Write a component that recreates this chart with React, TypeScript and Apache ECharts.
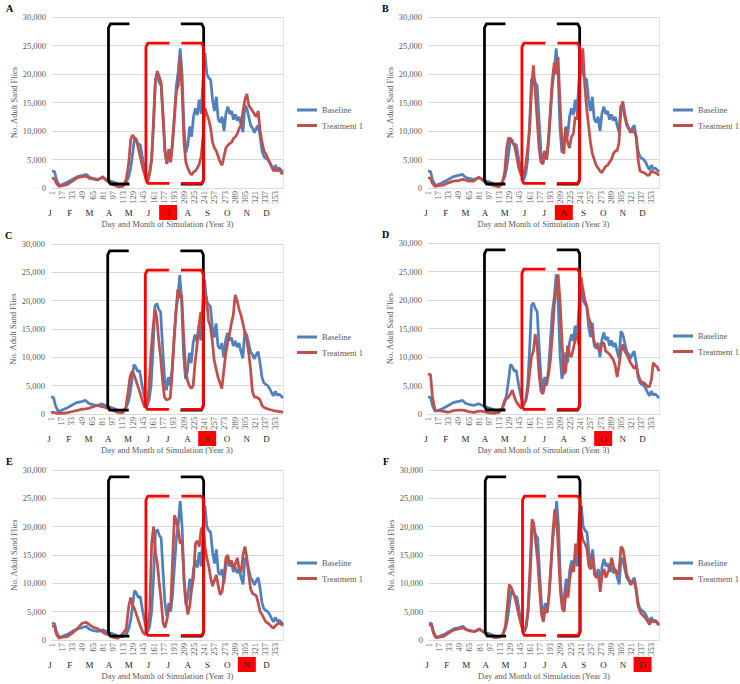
import React, { useEffect, useRef } from "react";
import * as echarts from "echarts";

// ---- Data (days of simulation, Year 3) ----
const days = [
  1, 5, 8, 12, 17, 25, 33, 41, 49, 55, 60, 65, 73, 81, 85, 90, 97, 105, 113,
  118, 122,
  125, 128, 131, 134, 137, 140, 144, 148,
  152, 155, 158, 161, 164, 167, 170, 173, 176, 179, 182, 185,
  188, 191, 194, 197, 200, 203, 206, 209, 212, 215, 218, 221,
  224, 227, 230, 233, 236, 239, 242, 245, 248, 251, 254, 257,
  260, 263, 266, 269, 272, 275, 278, 281, 284, 287, 290, 293,
  296, 299, 302, 305, 308, 311, 314, 317, 320, 323, 326, 329,
  332, 335, 338, 341, 344, 347, 350, 353, 356, 359, 362, 365,
];

const baseline = [
  3000, 2900, 1500, 500, 600, 1000, 1500, 2000, 2200, 2400, 1900, 1700, 1500, 1800, 1600, 1300, 1100, 700, 600,
  1000, 2000,
  3500, 6000, 8700, 8300, 7500, 7700, 5000, 2800,
  1500, 2500, 5000, 11000, 19000, 19500, 18500, 18000, 12000, 6500, 4200, 6500,
  5000, 8000, 13000, 18000, 20500, 24500, 20000, 10500, 6200, 7500, 10800, 9000,
  12500, 14000, 12800, 15500, 13000, 19000, 23700, 20000, 19300, 19000, 15500, 13500,
  16000, 12000, 11500, 12500, 10000, 13000, 14300, 13000, 13500, 12000, 12900, 11800,
  12500, 11000, 9800, 14500, 14000, 12500, 11000, 10500, 9700, 10500, 11000, 9000,
  6500, 5500, 5200, 5000, 4500, 3800, 3200, 4000, 3300, 3500, 3200, 2800,
];

const treatmentA = [
  1800, 1600, 800, 300, 400, 600, 1200, 1800, 2000, 2100, 1700, 1600, 1400, 2000, 1500, 1000, 600, 200, 300,
  1500, 4500,
  8500, 9300, 8800, 8500, 7000, 5500, 3500, 2000,
  1200, 3000, 5000, 12000, 19000, 20500, 19500, 18500, 13000, 6500, 4300, 6800,
  4500, 8000, 12500, 17000, 18000, 23000, 17000, 8000, 4500, 3500, 2700, 2300,
  2800, 3000, 3500, 4200, 5500, 9000, 14000, 13000, 12000, 10500, 8000, 7000,
  6500, 5500, 4500, 4000, 5500, 7000, 7500, 7800, 8000, 8700, 9000, 9500,
  10500, 11000, 13500, 15500, 16500, 14500, 14000, 13500, 13000, 12500, 13500, 10000,
  8000, 6500, 6000, 5200, 4500, 3800, 3000, 3200, 3000, 3300, 2700, 2400,
];

const treatmentB = [
  1800, 1700, 800, 300, 400, 500, 900, 1200, 1300, 1500, 1400, 1200, 1200, 1900, 1600, 1100, 700, 400, 200,
  800, 3000,
  7000, 8800, 8600, 8000, 7500, 6000, 3500, 2200,
  2500, 4000, 7000, 10000, 17000, 21500, 17000, 12000, 7000, 4500, 4200, 6500,
  5000, 9000, 14000, 19000, 22000, 20000, 23000, 15000, 8000, 6000, 10500, 8000,
  7000, 9000, 9500, 12500, 12000, 17000, 22000, 24500, 18000, 14000, 11000, 8000,
  6000, 5000, 4000, 3500, 3000, 2700, 3300, 3800, 4000, 4500, 5000, 6000,
  6500, 6500, 8000, 14000, 15200, 13000, 11500, 10500, 10000, 9800, 10000, 9000,
  5000, 3000, 2800, 2700, 2500, 2200, 2300, 3000, 2800, 2700, 2500, 2200,
];

const treatmentC = [
  300, 300, 200, 100, 100, 200, 400, 600, 800, 900, 1000, 1200, 1500, 1300, 1200, 1000, 700, 300, 200,
  800, 4000,
  6500, 7500, 7000, 6000, 5000, 4000, 2500, 1200,
  1500, 5000, 11000, 15000, 18500, 17000, 13000, 10000, 6000, 3000, 2500, 2600,
  2800, 7000, 13000, 18000, 22000, 20500, 21000, 14000, 8000, 6000, 5000, 4500,
  5000, 9000, 12000, 15500, 18000, 15000, 21000, 20500, 16500, 15500, 13000, 9500,
  8000, 6500, 5500, 4500, 7500, 10500, 12500, 14000, 16000, 17500, 21000, 20000,
  18500, 17500, 16000, 14500, 13000, 11000, 8000, 4000, 3000, 3000, 2800, 2500,
  1500, 1200, 1000, 900, 800, 700, 600, 500, 500, 400, 400, 300,
];

const treatmentD = [
  7000, 6900, 3000, 700, 600, 500, 300, 600, 700, 700, 600, 400, 300, 500, 500, 400, 200, 100, 300,
  900, 2500,
  2700, 3000, 3500, 4200, 3000, 2200, 1500, 1000,
  1800, 2300, 4000, 7000, 10000, 11000, 14000, 12000, 7000, 4000, 3500, 5000,
  5500, 7000, 9500, 14000, 19000, 22000, 24500, 20000, 13000, 7000, 7500, 12000,
  10500, 10000, 11500, 13000, 14000, 12000, 24000, 22000, 20000, 19000, 17000, 16000,
  14000, 12500, 12000, 11500, 11000, 12500, 12500, 11000, 10800, 10500, 10000, 9500,
  8500, 6500, 8500, 11000, 12200, 11000, 10500, 9800, 9000, 8500, 8000, 8500,
  7000, 6000, 5600, 5500, 5200, 4800, 4800, 6000, 9000, 8500, 8300, 7500,
];

const treatmentE = [
  2500, 2400, 1000, 300, 500, 600, 1200, 2000, 3000, 3100, 2700, 2300, 2000, 1400, 1100, 900, 500, 300, 1200,
  2000, 6000,
  7500, 6200, 5500, 4500, 3500, 2500, 1400, 900,
  2500, 5000, 17000, 20000, 15500, 13500, 10000, 7000, 3000, 2200, 3500, 5500,
  6000, 14000, 22000, 21000, 19500, 17000, 17500, 11000, 7000, 4500, 6000, 9000,
  11000, 17000, 17500, 16500, 19500, 20000, 16500, 14500, 13000, 11000, 9500, 10500,
  11500, 9500, 8000, 8500, 11000, 14500, 15000, 13500, 14000, 12500, 13500, 14500,
  12500, 12000, 15000, 16500, 14500, 11500, 9000, 8200, 8000, 7800, 6500, 5000,
  4500, 3800, 3200, 3000, 2700, 2300, 2100, 2500, 2800, 3000, 2800, 2500,
];

const treatmentF = [
  2700, 2600, 1200, 400, 500, 700, 1300, 1800, 2000, 2200, 1800, 1600, 1500, 2000, 1600, 1200, 800, 400, 500,
  1000, 2500,
  6000, 9800, 9300, 8500, 7500, 6000, 4000, 2200,
  1500, 2500, 6000, 13000, 21300, 20500, 17000, 14000, 9000, 4500, 3200, 5500,
  4800, 8000, 13000, 19000, 23000, 22000, 15000, 8500, 5500, 5000, 9000, 7500,
  11000, 13000, 12000, 17000, 15000, 22500, 19000, 17500, 17000, 16000, 13000, 12500,
  15000, 11500, 11000, 11500, 8500, 11500, 12500, 11000, 12000, 12500, 14500, 13000,
  12000, 11500, 12500, 16500, 16000, 14000, 11500, 10800, 10000, 10000, 10500, 8500,
  6000, 5000, 4500, 4200, 3800, 3300, 2700, 3500, 3200, 3300, 3000, 2600,
];

const treatments = [treatmentA, treatmentB, treatmentC, treatmentD, treatmentE, treatmentF];
const panelLetters = ["A", "B", "C", "D", "E", "F"];
const highlightedMonth = [6, 7, 8, 9, 10, 11];
const monthLetters = ["J", "F", "M", "A", "M", "J", "J", "A", "S", "O", "N", "D"];
const monthCenterDays = [-2, 29, 60, 91, 122, 153, 184, 215, 246, 277, 308, 339];
const seriesNames = ["Baseline", "Treatment 1"];
const xTitle = "Day and Month of Simulation (Year 3)";
const yTitle = "No. Adult Sand Flies";

// Bracket annotations in data units [day, flies]
const blackLeft = [[123, 28800], [93, 28800], [90, 28100], [90, 1400], [93, 700], [123, 700]];
const blackRight = [[204, 28800], [237, 28800], [240, 28100], [240, 1400], [237, 700], [204, 700]];
const redLeft = [[186, 25400], [152, 25400], [149, 24700], [149, 1500], [152, 800], [186, 800]];
const redRight = [[205, 25400], [237, 25400], [240, 24700], [240, 1500], [237, 800], [205, 800]];

// ---- Layout ----
const grids = [
  { left: 52, top: 17, width: 231, height: 171 },
  { left: 428, top: 17, width: 231, height: 171 },
  { left: 51, top: 244, width: 232, height: 170 },
  { left: 428, top: 243, width: 231, height: 171 },
  { left: 52, top: 470, width: 231, height: 170 },
  { left: 429, top: 470, width: 230, height: 170 },
];

const FONT = "Liberation Serif, Times New Roman, serif";
const GRAY = "#595959";
const BLUE = "#4F81BD";
const RED = "#C0504D";

const categories = Array.from({ length: 365 }, (_, i) => String(i + 1));

function toData(vals: number[]) {
  const n = Math.min(days.length, vals.length);
  const out: any[] = [];
  for (let i = 0; i < n; i++) out.push([days[i] - 1, vals[i]]);
  return out;
}
function bracketData(pts: number[][]) {
  return pts.map(([d, v]) => [d - 1, v]);
}

function buildOption() {
  const xAxis: any[] = [];
  const yAxis: any[] = [];
  const series: any[] = [];
  const legend: any[] = [];
  grids.forEach((g, i) => {
    xAxis.push({
      type: "category",
      gridIndex: i,
      data: categories,
      boundaryGap: false,
      axisLine: { show: true, lineStyle: { color: "#D9D9D9", width: 1 } },
      axisTick: { show: false },
      axisLabel: {
        interval: 15,
        rotate: 90,
        margin: 3,
        fontSize: 8.5,
        color: GRAY,
        fontFamily: FONT,
      },
      splitLine: { show: false },
      name: xTitle,
      nameLocation: "middle",
      nameGap: 31,
      nameTextStyle: { fontSize: 8.5, color: GRAY, fontFamily: FONT },
    });
    yAxis.push({
      type: "value",
      gridIndex: i,
      min: 0,
      max: 30000,
      interval: 5000,
      axisLine: { show: false },
      axisTick: { show: false },
      axisLabel: {
        margin: 6,
        fontSize: 8.5,
        color: GRAY,
        fontFamily: FONT,
        formatter: (v: number) => v.toLocaleString("en-US"),
      },
      splitLine: { show: true, lineStyle: { color: "#D9D9D9", width: 1 } },
      name: yTitle,
      nameLocation: "middle",
      nameGap: 34,
      nameTextStyle: { fontSize: 8.5, color: GRAY, fontFamily: FONT },
    });
  });
  grids.forEach((g, i) => {
    yAxis.push({
      type: "value",
      gridIndex: i,
      position: "right",
      min: 0,
      max: 30000,
      axisLine: { show: true, lineStyle: { color: "#E3E3E3", width: 1 } },
      axisTick: { show: false },
      axisLabel: { show: false },
      splitLine: { show: false },
    });
  });
  grids.forEach((g, i) => {
    series.push({
      name: seriesNames[0],
      type: "line",
      xAxisIndex: i,
      yAxisIndex: i,
      data: toData(baseline),
      showSymbol: false,
      symbol: "none",
      lineStyle: { color: BLUE, width: 2.75 },
      itemStyle: { color: BLUE },
      z: 2,
    });
    series.push({
      name: seriesNames[1],
      type: "line",
      xAxisIndex: i,
      yAxisIndex: i,
      data: toData(treatments[i]),
      showSymbol: false,
      symbol: "none",
      lineStyle: { color: RED, width: 2.75 },
      itemStyle: { color: RED },
      z: 3,
    });
    const br = [
      { pts: blackLeft, color: "#000000", z: 4 },
      { pts: blackRight, color: "#000000", z: 4 },
      { pts: redLeft, color: "#FF0000", z: 5 },
      { pts: redRight, color: "#FF0000", z: 5 },
    ];
    br.forEach((b, k) => {
      series.push({
        name: "bracket-" + i + "-" + k,
        type: "line",
        xAxisIndex: i,
        yAxisIndex: i,
        data: bracketData(b.pts),
        showSymbol: false,
        symbol: "none",
        silent: true,
        lineStyle: { color: b.color, width: 2.8, join: "round", cap: "butt" },
        z: b.z,
      });
    });
    const col = i % 2;
    legend.push({
      orient: "vertical",
      left: col === 0 ? 297 : 673,
      top: g.top + 88,
      padding: 0,
      itemWidth: 20,
      itemHeight: 3,
      itemGap: 5.5,
      icon: "rect",
      selectedMode: false,
      data: seriesNames,
      textStyle: { fontSize: 8.5, color: GRAY, fontFamily: FONT, lineHeight: 10 },
    });
  });
  return {
    animation: false,
    backgroundColor: "#ffffff",
    textStyle: { fontFamily: FONT },
    grid: grids.map((g) => ({ ...g, containLabel: false })),
    xAxis,
    yAxis,
    legend,
    series,
  };
}

export default function App() {
  const ref = useRef<HTMLDivElement>(null);
  useEffect(() => {
    document.body.style.margin = "0";
    const chart = echarts.init(ref.current!, null, { renderer: "svg" });
    chart.setOption(buildOption());
    const elements: any[] = [];
    grids.forEach((g, i) => {
      const x0 = chart.convertToPixel({ xAxisIndex: i } as any, 0) as unknown as number;
      const x1 = chart.convertToPixel({ xAxisIndex: i } as any, 364) as unknown as number;
      const yb = chart.convertToPixel({ yAxisIndex: i } as any, 0) as unknown as number;
      const dx = (d: number) => x0 + ((d - 1) / 364) * (x1 - x0);
      const hx = dx(monthCenterDays[highlightedMonth[i]]);
      elements.push({
        type: "rect",
        shape: { x: hx - 9, y: yb + 17, width: 18, height: 15 },
        style: { fill: "#FF0000" },
        silent: true,
        z: 10,
      });
      monthLetters.forEach((m, k) => {
        elements.push({
          type: "text",
          x: dx(monthCenterDays[k]),
          y: yb + 25,
          style: {
            text: m,
            fill: "#262626",
            fontSize: 9,
            fontFamily: FONT,
            align: "center",
            verticalAlign: "middle",
          },
          silent: true,
          z: 11,
        });
      });
      elements.push({
        type: "text",
        x: g.left - 46,
        y: g.top - 14,
        style: {
          text: panelLetters[i],
          fill: "#000000",
          fontSize: 10,
          fontWeight: "bold",
          fontFamily: FONT,
          align: "left",
          verticalAlign: "top",
        },
        silent: true,
        z: 11,
      });
    });
    chart.setOption({ graphic: elements });
    return () => chart.dispose();
  }, []);
  return <div ref={ref} style={{ width: 740, height: 684 }} />;
}
